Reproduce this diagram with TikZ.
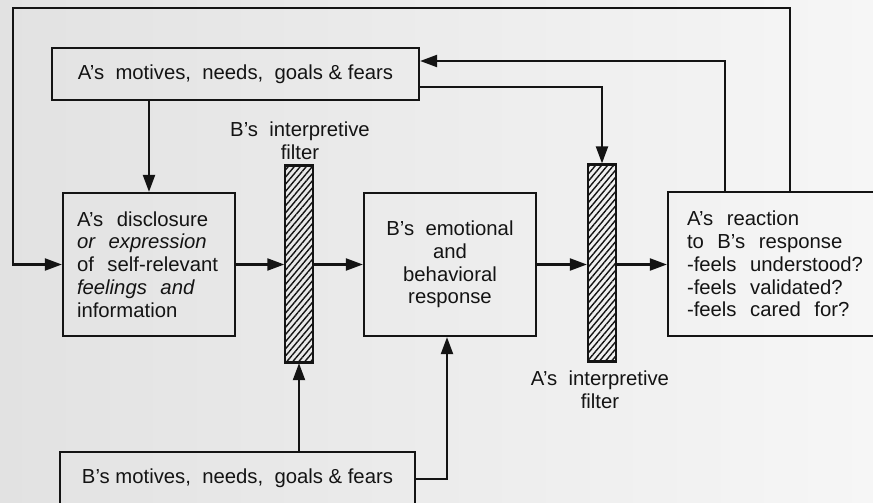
\documentclass[tikz,border=0pt]{standalone}
\usepackage{fontspec}
\setmainfont{Liberation Sans}
\usetikzlibrary{arrows.meta,patterns.meta}
\definecolor{ink}{RGB}{20,20,20}
\definecolor{bgl}{RGB}{226,226,226}
\definecolor{bgr}{RGB}{246,246,246}
\begin{document}
\begin{tikzpicture}[x=1pt,y=-1pt,
  every node/.style={font=\fontsize{20.3}{22.8}\selectfont, text=ink},
  box/.style={draw=ink, line width=2.2pt, inner sep=0pt},
  filt/.style={draw=ink, line width=2.2pt, minimum width=28pt, minimum height=197pt, inner sep=0pt,
    pattern={Lines[angle=50,distance=4.6pt,line width=1.4pt]}, pattern color=ink},
  arr/.style={draw=ink, line width=2.1pt, -{Triangle[length=17pt,width=12pt]}},
  lbl/.style={align=center, inner sep=0pt}]
\fill[left color=bgl, right color=bgr] (0,0) rectangle (873,503);
\useasboundingbox (0,0) rectangle (873,503);
\clip (0,0) rectangle (873,503);

\node[box, minimum width=367pt, minimum height=52pt] (amot) at (235.5,74) {A's\ \ motives,\ \ needs,\ \ goals \& fears\hspace{4pt}};
\node[box, minimum width=172pt, minimum height=143pt, text width=144pt, align=left] (disc) at (149,264.5)
  {A's\ \ disclosure\\ \textit{or\ \ expression}\\ of\ \ self-relevant\\ \textit{feelings\ \ and}\\ information};
\node[filt] (filtB) at (299,264) {};
\node[box, minimum width=172pt, minimum height=143pt, align=center] (emo) at (450,264.5)
  {B's\ \ emotional\\ and\\ behavioral\\ response};
\node[filt] (filtA) at (602,263) {};
\node[box, minimum width=224pt, minimum height=144pt, text width=186pt, align=left] (react) at (780,264)
  {A's\ \ reaction\\ to\ \ B's\ \ response\\ -feels\ \ understood?\\ -feels\ \ validated?\\ -feels\ \ cared\ \ for?};
\node[box, minimum width=355pt, minimum height=52pt] (bmot) at (237.5,478) {B's motives,\ \ needs,\ \ goals \& fears};

\node[lbl] (lblB) at (300,141) {B's\ \ interpretive\\ filter};
\node[lbl] (lblA) at (600,390) {A's\ \ interpretive\\ filter};

\coordinate (tr) at (790,8);
\coordinate (tl) at (13,8);
\coordinate (r2) at (725,61);
\coordinate (r3) at (602,87);
\coordinate (b2) at (447,479);

\draw[arr] (amot.south -| disc.north) -- (disc.north);
\draw[arr] (react.north -| tr) -- (tr) -- (tl) |- (disc.west);
\draw[arr] (react.north -| r2) -- (r2) -- (amot.east |- r2);
\draw[arr] (amot.east |- r3) -- (r3) -- (filtA.north);
\draw[arr] (disc.east) -- (filtB.west |- disc.east);
\draw[arr] (filtB.east |- disc.east) -- (emo.west);
\draw[arr] (emo.east) -- (filtA.west |- emo.east);
\draw[arr] (filtA.east |- emo.east) -- (react.west |- emo.east);
\draw[arr] (bmot.north -| filtB.south) -- (filtB.south);
\draw[arr] (bmot.east |- b2) -- (b2) -- (emo.south -| b2);
\end{tikzpicture}
\end{document}
